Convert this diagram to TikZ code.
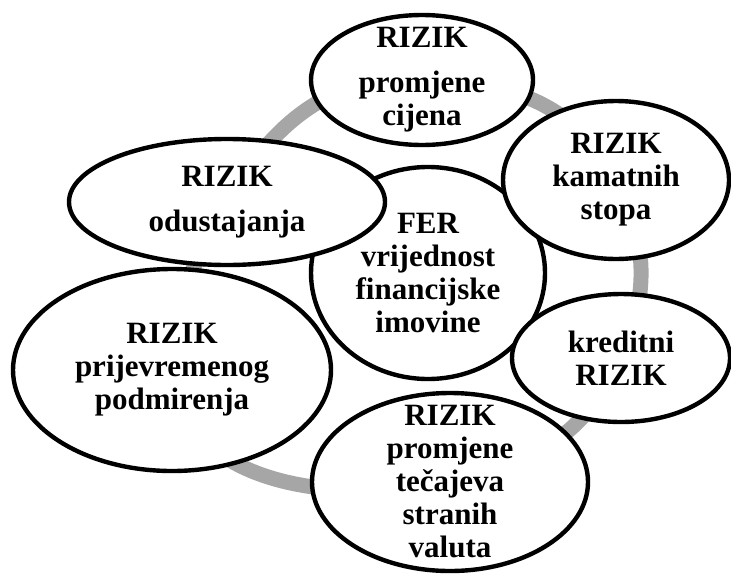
\documentclass[tikz,border=0pt]{standalone}
\usepackage{fontspec}
\setmainfont{Liberation Serif}
\usetikzlibrary{shapes.geometric,backgrounds}
\definecolor{ringgray}{RGB}{166,166,166}
\begin{document}
\begin{tikzpicture}[
  x = 0.5pt, y = 0.5pt,
  blob/.style = {draw, ellipse, line width=2.2pt, fill=white, inner sep=0pt},
  txt/.style = {align=center, inner sep=0pt,
    font=\bfseries\fontsize{15.5}{16.5}\selectfont},
  ring/.style = {draw=ringgray, line width=7.5pt},
]
\useasboundingbox (0,0) rectangle (731,-573);

% the ellipses are drawn empty and the texts set on them afterwards, so that
% a tall text does not blow up its ellipse
\node[blob, minimum width=117pt, minimum height=106pt] (fair)      at (428,-273) {};
\node[blob, minimum width=158pt, minimum height=63pt]  (surrender) at (227,-202) {};
\node[blob, minimum width=159pt, minimum height=101pt] (prepay)    at (172,-370) {};
\node[blob, minimum width=111pt, minimum height=65pt]  (prices)    at (422,-80)  {};
\node[blob, minimum width=113pt, minimum height=79pt]  (rates)     at (616,-180) {};
\node[blob, minimum width=109pt, minimum height=64pt]  (credit)    at (621,-358) {};
\node[blob, minimum width=138pt, minimum height=89pt]  (currency)  at (450,-482) {};

\node[txt] (fair-t)      at (fair)      {FER\\vrijednost\\financijske\\imovine};
\node[txt] (surrender-t) at (surrender) {RIZIK\\[6pt]odustajanja};
\node[txt] (prepay-t)    at (prepay)    {RIZIK\\prijevremenog\\podmirenja};
\node[txt] (prices-t)    at (prices)    {RIZIK\\[6pt]promjene\\cijena};
\node[txt] (rates-t)     at (rates)     {RIZIK\\kamatnih\\stopa};
\node[txt] (credit-t)    at (credit)    {kreditni\\RIZIK};
\node[txt] (currency-t)  at (currency)  {RIZIK\\promjene\\tečajeva\\stranih\\valuta};

\begin{scope}[on background layer]
  \draw[ring] (prices.center)
    to[out=0, in=117]     (rates.center)
    to[out=-63, in=66]    (credit.center)
    to[out=-114, in=11]   (currency.center)
    to[out=-169, in=-85]  (prepay.center)
    to[out=95, in=-115]   (surrender.center)
    to[out=60, in=175]    (prices.center);
\end{scope}

\end{tikzpicture}
\end{document}
